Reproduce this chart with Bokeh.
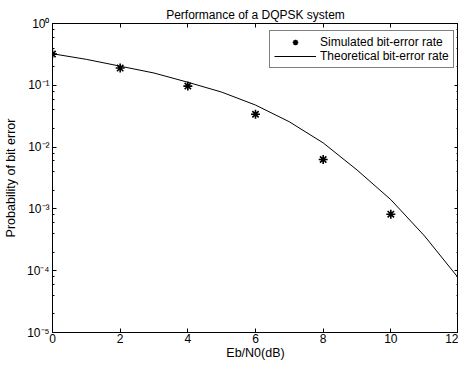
from bokeh.plotting import figure
from bokeh.models import (LogAxis, LinearAxis, Range1d, CustomJSTickFormatter,
                          FixedTicker, Legend, LegendItem, LogTicker)
from bokeh.embed import file_html
from bokeh.resources import INLINE

# ---- data ----
ebn0_sim = [0, 2, 4, 6, 8, 10]
ber_sim = [0.32, 0.19, 0.097, 0.034, 0.0063, 0.00082]

ebn0_theory = [0, 1, 2, 3, 4, 5, 6, 7, 8, 9, 10, 11, 12]
ber_theory = [0.324, 0.263, 0.204, 0.158, 0.112, 0.0776, 0.0479, 0.0257,
              0.0117, 0.00427, 0.00141, 0.000363, 0.0000759]

x_ticks = [0, 2, 4, 6, 8, 10, 12]

FONT = "Liberation Sans"

p = figure(width=458, height=364, y_axis_type="log",
           x_range=Range1d(0, 12), y_range=Range1d(1e-5, 1),
           output_backend="svg", toolbar_location=None,
           title="Performance of a DQPSK system",
           min_border_left=52, min_border_right=0, min_border_top=23,
           min_border_bottom=32)

p.background_fill_color = "white"
p.border_fill_color = "white"
p.outline_line_color = "black"
p.outline_line_width = 1
p.xgrid.visible = False
p.ygrid.visible = False

p.title.align = "center"
p.title.text_font = FONT
p.title.text_font_size = "12px"
p.title.text_font_style = "normal"
p.title.text_color = "black"
p.title.standoff = 3

sup = CustomJSTickFormatter(code="""
const s = {"-":"\u207b","0":"\u2070","1":"\u00b9","2":"\u00b2","3":"\u00b3","4":"\u2074","5":"\u2075"};
const e = Math.round(Math.log10(tick));
return "10" + String(e).split("").map(c => s[c]).join("");
""")
blank = CustomJSTickFormatter(code="return '';")

for ax in (p.xaxis[0], p.yaxis[0]):
    ax.axis_label_text_font = FONT
    ax.axis_label_text_font_size = "12.5px"
    ax.axis_label_text_font_style = "normal"
    ax.axis_label_text_color = "black"
    ax.major_label_text_font = FONT
    ax.major_label_text_font_size = "12px"
    ax.major_label_text_color = "black"
    ax.major_label_standoff = 3
    ax.major_tick_in = 4
    ax.major_tick_out = 0
    ax.axis_line_color = "black"
    ax.major_tick_line_color = "black"

xa = p.xaxis[0]
xa.ticker = FixedTicker(ticks=x_ticks)
xa.axis_label = "Eb/N0(dB)"
xa.axis_label_standoff = 0
xa.major_label_standoff = 1
xa.minor_tick_line_color = None

ya = p.yaxis[0]
ya.ticker = LogTicker(desired_num_ticks=6)
ya.formatter = sup
ya.axis_label = "Probability of bit error"
ya.axis_label_standoff = 6
ya.minor_tick_in = 2
ya.minor_tick_out = 0
ya.minor_tick_line_color = "black"

top = LinearAxis(ticker=FixedTicker(ticks=x_ticks), formatter=blank,
                 major_label_text_font_size="1px",
                 major_tick_in=4, major_tick_out=0, minor_tick_line_color=None,
                 major_label_standoff=0, axis_label_standoff=0,
                 axis_line_color="black")
p.add_layout(top, "above")
right = LogAxis(ticker=LogTicker(desired_num_ticks=6), formatter=blank,
                major_label_text_font_size="1px",
                major_tick_in=4, major_tick_out=0, minor_tick_in=2, minor_tick_out=0,
                major_label_standoff=0, axis_label_standoff=0,
                axis_line_color="black")
p.add_layout(right, "right")

r_sim = p.scatter(ebn0_sim, ber_sim, marker="asterisk", size=9,
                  line_color="black", line_width=1.6)
r_th = p.line(ebn0_theory, ber_theory, line_color="black", line_width=1)

legend = Legend(items=[LegendItem(label="Simulated bit-error rate", renderers=[r_sim]),
                       LegendItem(label="Theoretical bit-error rate", renderers=[r_th])],
                location=(217, 264), margin=0, padding=4, spacing=0,
                glyph_width=42, glyph_height=14, label_height=14, label_standoff=4,
                label_text_font=FONT, label_text_font_size="12px",
                label_text_color="black",
                border_line_color="black", border_line_width=1,
                background_fill_alpha=1)
p.add_layout(legend, "center")

open("out.html", "w").write(file_html(p, INLINE))
